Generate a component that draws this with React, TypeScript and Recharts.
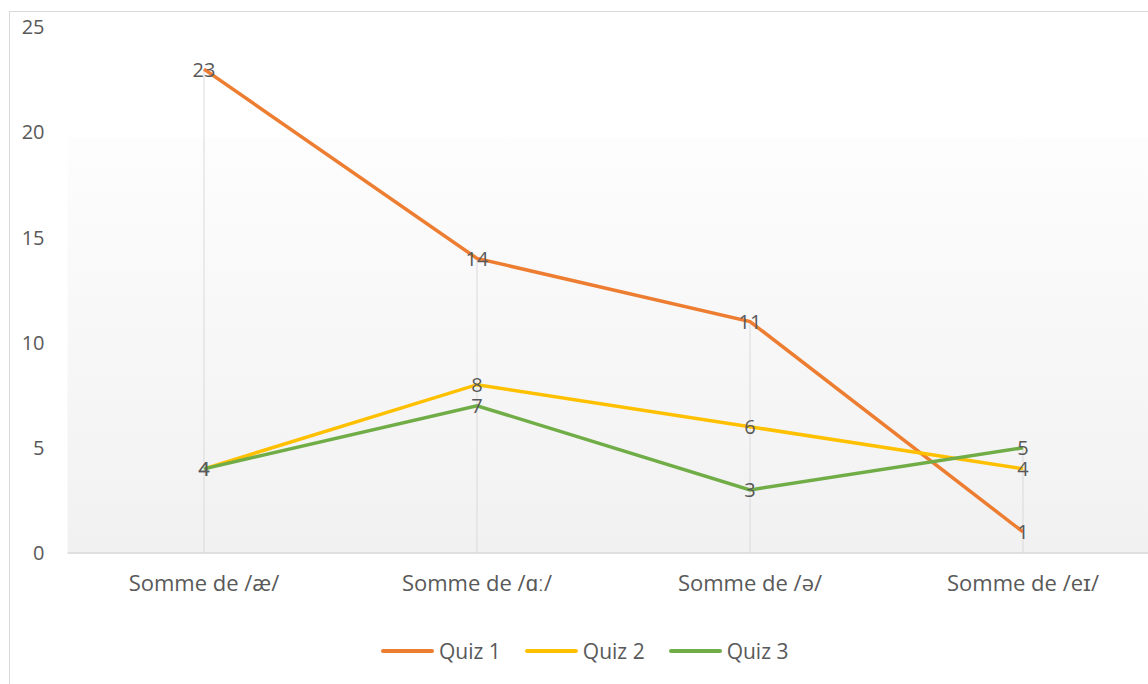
import React from 'react'
import {
  ComposedChart, Line, Bar, XAxis, YAxis, CartesianGrid, Legend, LabelList,
} from 'recharts'

// Catégories et valeurs
const categories = ['Somme de /æ/', 'Somme de /ɑː/', 'Somme de /ə/', 'Somme de /eɪ/']
const quiz1 = [23, 14, 11, 1]
const quiz2 = [4, 8, 6, 4]
const quiz3 = [4, 7, 3, 5]
const yTicks = [0, 5, 10, 15, 20, 25]

const FONT = '"Open Sans", sans-serif'
const TEXT = '#595959'

const series = [
  { key: 'q1', name: 'Quiz 1', color: '#ED7D31' },
  { key: 'q2', name: 'Quiz 2', color: '#FFC000' },
  { key: 'q3', name: 'Quiz 3', color: '#70AD47' },
]

const data = categories.map((c, i) => ({
  name: c,
  q1: quiz1[i],
  q2: quiz2[i],
  q3: quiz3[i],
  // ligne de chute jusqu'au point le plus haut
  drop: Math.max(quiz1[i], quiz2[i], quiz3[i]),
}))

function PointLabel(props: any) {
  const { x, y, value } = props
  return (
    <text x={x} y={y} textAnchor="middle" dominantBaseline="central"
      fill={TEXT} fontSize={20} fontFamily={FONT}>
      {value}
    </text>
  )
}

function LegendContent() {
  return (
    <div style={{ display: 'flex', justifyContent: 'center', alignItems: 'center', height: 40, fontFamily: FONT, fontSize: 21, color: TEXT }}>
      {series.map(s => (
        <div key={s.key} style={{ display: 'flex', alignItems: 'center', margin: '0 12px' }}>
          <div style={{ width: 53, height: 4, borderRadius: 2, background: s.color, marginRight: 5 }} />
          <span>{s.name}</span>
        </div>
      ))}
    </div>
  )
}

export default function App() {
  return (
    <div style={{ position: 'fixed', left: 0, top: 0, width: 1148, height: 684, overflow: 'hidden', background: '#fff' }}>
      <svg width={0} height={0} style={{ position: 'absolute' }}>
        <defs>
          <linearGradient id="plotBg" x1="0" y1="0" x2="0" y2="1">
            <stop offset="0" stopColor="#ffffff" />
            <stop offset="0.208" stopColor="#ffffff" />
            <stop offset="0.21" stopColor="#fdfdfd" />
            <stop offset="1" stopColor="#f1f1f1" />
          </linearGradient>
        </defs>
      </svg>
      <div style={{
        position: 'absolute', left: 9, top: 11, width: 1200, height: 720,
        borderLeft: '1px solid #d9d9d9', borderTop: '1px solid #d9d9d9',
      }}>
        <ComposedChart width={1160} height={700} data={data}
          margin={{ top: 15, right: 10.5, left: 0, bottom: 41 }}>
          <CartesianGrid horizontal={false} vertical={false} fill="url(#plotBg)" fillOpacity={1} />
          <XAxis dataKey="name" height={78} axisLine={{ stroke: '#d9d9d9', strokeWidth: 1.5 }}
            tickLine={false} tickSize={0} tickMargin={22}
            tick={{ fill: TEXT, fontSize: 22, fontFamily: FONT }} />
          <YAxis width={57.5} domain={[0, 25]} ticks={yTicks} axisLine={false}
            tickLine={false} tickSize={0} tickMargin={23}
            tick={{ fill: TEXT, fontSize: 20, fontFamily: FONT }} />
          <Bar dataKey="drop" barSize={1} fill="#d9d9d9" isAnimationActive={false} legendType="none" />
          {series.map(s => (
            <Line key={s.key} dataKey={s.key} name={s.name} type="linear" stroke={s.color}
              strokeWidth={3.5} dot={false} activeDot={false} isAnimationActive={false}>
              <LabelList dataKey={s.key} content={<PointLabel />} />
            </Line>
          ))}
          <Legend verticalAlign="bottom" content={<LegendContent />} />
        </ComposedChart>
      </div>
    </div>
  )
}
